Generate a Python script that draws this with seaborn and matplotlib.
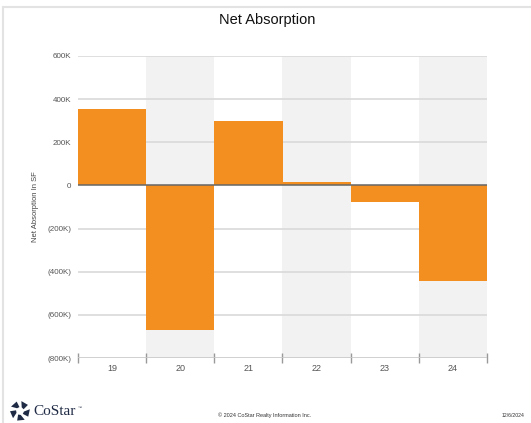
import matplotlib
matplotlib.use("Agg")
import matplotlib.pyplot as plt
import seaborn as sns
import pandas as pd
import numpy as np
from matplotlib.lines import Line2D
from matplotlib.patches import Polygon

categories = ["19", "20", "21", "22", "23", "24"]
net_absorption = [355000, -670000, 298000, 15000, -78000, -445000]
y_ticks = [600000, 400000, 200000, 0, -200000, -400000, -600000, -800000]
y_tick_labels = ["600K", "400K", "200K", "0", "(200K)", "(400K)", "(600K)", "(800K)"]

df = pd.DataFrame({"year": categories, "value": net_absorption})

sns.set_theme(style="white")
plt.rcParams['font.family'] = ['Liberation Sans', 'DejaVu Sans']

fig = plt.figure(figsize=(5.31, 4.23), dpi=100)
ax = fig.add_axes([78/531, 1-358/423, (487-78)/531, (358-56)/423])

orange = "#F28F20"
sns.barplot(data=df, x="year", y="value", color=orange, width=1.0,
            saturation=1, ax=ax, zorder=3, edgecolor="none", linewidth=0)

n = len(categories)
for i in range(n):
    if i % 2 == 1:
        ax.axvspan(i - 0.5, i + 0.5, color="#f2f2f2", zorder=0, lw=0)

for t in y_ticks:
    if t == 0 or t == y_ticks[-1]:
        continue
    ax.axhline(t, color="#d9d9d9", lw=1.2, zorder=1)
ax.axhline(0, color="#666666", lw=1.1, zorder=4)
ax.axhline(y_ticks[-1], color="#c8c8c8", lw=1.2, zorder=4)

ax.set_xlim(-0.5, n - 0.5)
ax.set_ylim(-800000, 600000)
ax.set_yticks(y_ticks)
ax.set_yticklabels(y_tick_labels)
for s in ax.spines.values():
    s.set_visible(False)
ax.tick_params(axis="y", length=0, labelsize=5.8, labelcolor="#555555", pad=5)
ax.tick_params(axis="x", which="major", length=0, labelsize=6.5, labelcolor="#555555", pad=4)
ax.set_xticks(np.arange(-0.5, n, 1.0), minor=True)
ax.tick_params(axis="x", which="minor", bottom=True, length=7, direction="inout", color="#999999", width=1)
ax.set_xlabel("")
ax.set_ylabel("Net Absorption In SF", fontsize=5.5, color="#444444", labelpad=6)

fig.text(267/531, 1-20/423, "Net Absorption", ha="center", va="center", fontsize=10.5, color="#111111")

# page frame
fig.add_artist(Line2D([3/531, 1], [1-7/423, 1-7/423], transform=fig.transFigure, color="#e3e3e3", lw=1.5))
fig.add_artist(Line2D([3/531, 3/531], [0, 1-7/423], transform=fig.transFigure, color="#e3e3e3", lw=1.5))

# footer
fig.text(265/531, 1-415/423, "\u00a9 2024 CoStar Realty Information Inc.", ha="center", va="center", fontsize=4, color="#333333")
fig.text(525/531, 1-415/423, "12/6/2024", ha="right", va="center", fontsize=3.7, color="#333333")
fig.text(33/531, 1-411/423, "CoStar", ha="left", va="center", fontsize=11, color="#1f2a44",
         family=["Liberation Serif", "DejaVu Serif"])
fig.text(78/531, 1-408/423, "\u2122", ha="left", va="center", fontsize=3, color="#1f2a44")

# logo: ring of 5 wedge shapes
cx, cy, r_out, r_in = 20, 411, 10, 4
for k in range(5):
    a0 = np.deg2rad(90 + k * 72 + 8)
    a1 = np.deg2rad(90 + k * 72 + 64)
    pts = [(cx + r_in * np.cos(a0), cy - r_in * np.sin(a0)),
           (cx + r_out * np.cos(a0 + 0.2), cy - r_out * np.sin(a0 + 0.2)),
           (cx + r_out * np.cos(a1), cy - r_out * np.sin(a1)),
           (cx + r_in * np.cos(a1 - 0.3), cy - r_in * np.sin(a1 - 0.3))]
    pts = [(x / 531, 1 - y / 423) for x, y in pts]
    fig.add_artist(Polygon(pts, closed=True, transform=fig.transFigure, color="#1f2a44", lw=0))

fig.savefig("out.png", dpi=100)
